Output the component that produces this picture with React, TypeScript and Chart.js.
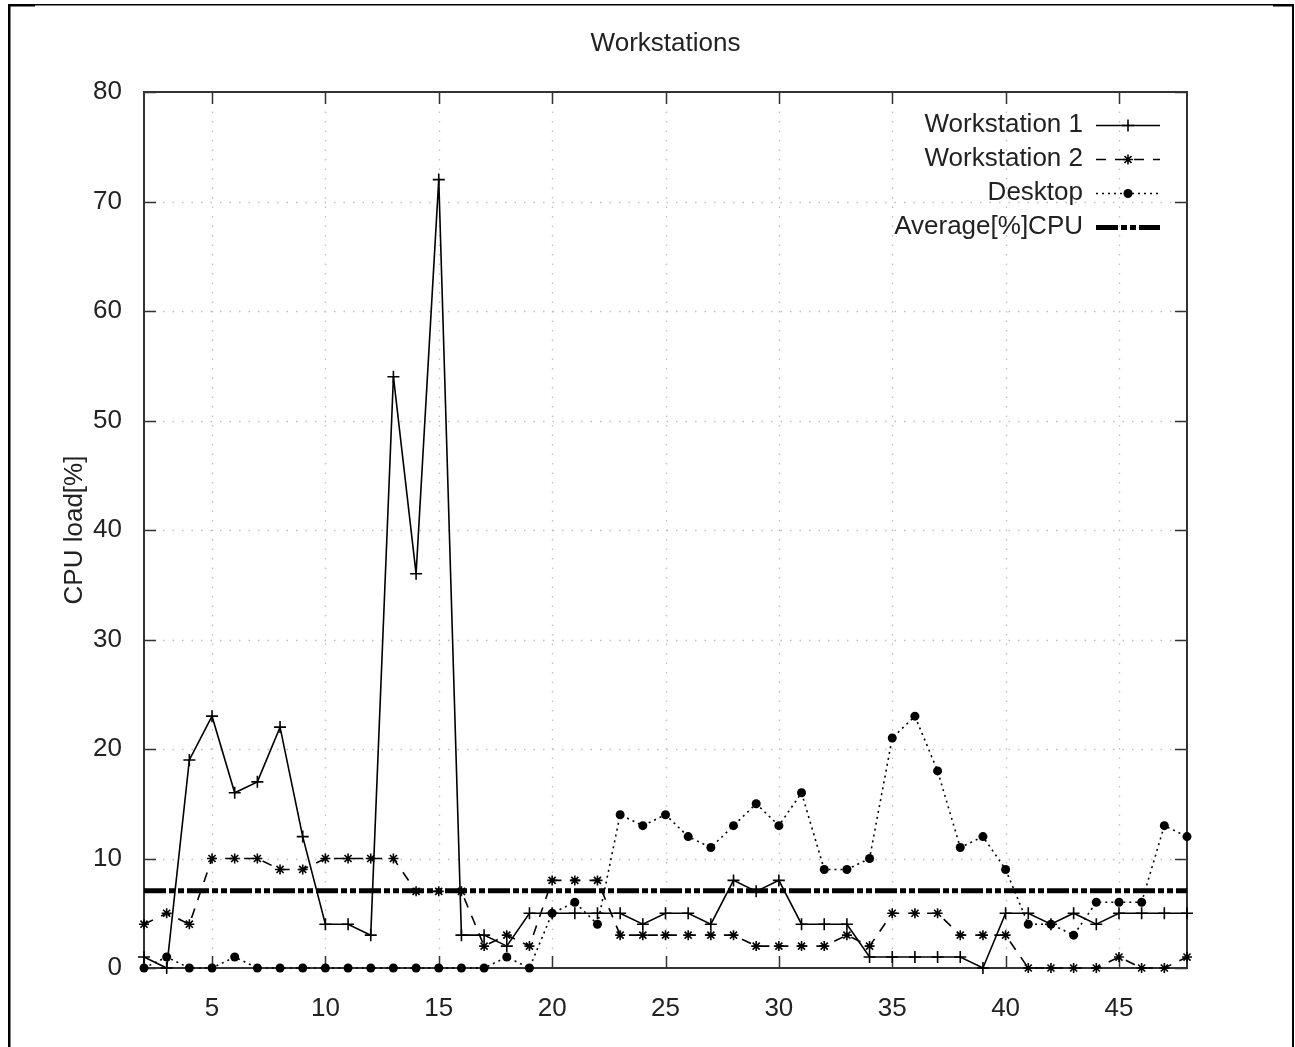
import React, { useEffect, useRef } from 'react';
import { Chart, registerables } from 'chart.js';

Chart.register(...registerables);

// ---------- data ----------
const hours = [2, 3, 4, 5, 6, 7, 8, 9, 10, 11, 12, 13, 14, 15, 16, 17, 18, 19, 20, 21, 22, 23, 24, 25, 26, 27, 28, 29, 30, 31, 32, 33, 34, 35, 36, 37, 38, 39, 40, 41, 42, 43, 44, 45, 46, 47, 48];
const workstation1 = [1, 0, 19, 23, 16, 17, 22, 12, 4, 4, 3, 54, 36, 72, 3, 3, 2, 5, 5, 5, 5, 5, 4, 5, 5, 4, 8, 7, 8, 4, 4, 4, 1, 1, 1, 1, 1, 0, 5, 5, 4, 5, 4, 5, 5, 5, 5];
const workstation2 = [4, 5, 4, 10, 10, 10, 9, 9, 10, 10, 10, 10, 7, 7, 7, 2, 3, 2, 8, 8, 8, 3, 3, 3, 3, 3, 3, 2, 2, 2, 2, 3, 2, 5, 5, 5, 3, 3, 3, 0, 0, 0, 0, 1, 0, 0, 1];
const desktop = [0, 1, 0, 0, 1, 0, 0, 0, 0, 0, 0, 0, 0, 0, 0, 0, 1, 0, 5, 6, 4, 14, 13, 14, 12, 11, 13, 15, 13, 16, 9, 9, 10, 21, 23, 18, 11, 12, 9, 4, 4, 3, 6, 6, 6, 13, 12];
const averageCpu = 7.06;
const xTickValues = [5, 10, 15, 20, 25, 30, 35, 40, 45];
const yTickValues = [0, 10, 20, 30, 40, 50, 60, 70, 80];
const chartTitle = 'Workstations';
const yAxisTitle = 'CPU load[%]';
const seriesNames = ['Workstation 1', 'Workstation 2', 'Desktop', 'Average[%]CPU'];

// ---------- layout / style ----------
const W = 1295;
const H = 1047;
const AREA = { left: 144, top: 92, right: 1187, bottom: 968 };
const FONT = '"Liberation Sans", Arial, sans-serif';
const FS = 26;
const TEXT = '#222';
const AXIS = '#333';

type Mk = 'cross' | 'star' | 'circle' | 'none';
const styles: { dash: number[]; width: number; marker: Mk; r: number }[] = [
  { dash: [], width: 1.6, marker: 'cross', r: 6 },
  { dash: [10, 9], width: 1.6, marker: 'star', r: 5 },
  { dash: [2, 4], width: 1.6, marker: 'circle', r: 4.5 },
  { dash: [22, 3, 6, 3, 6, 3], width: 5, marker: 'none', r: 0 },
];

function drawMarker(ctx: CanvasRenderingContext2D, m: Mk, x: number, y: number, r: number) {
  ctx.save();
  ctx.setLineDash([]);
  ctx.strokeStyle = '#000';
  ctx.fillStyle = '#000';
  ctx.lineWidth = 1.6;
  ctx.beginPath();
  if (m === 'cross' || m === 'star') {
    ctx.moveTo(x - r, y); ctx.lineTo(x + r, y);
    ctx.moveTo(x, y - r); ctx.lineTo(x, y + r);
    if (m === 'star') {
      const d = r * 0.7071;
      ctx.moveTo(x - d, y - d); ctx.lineTo(x + d, y + d);
      ctx.moveTo(x - d, y + d); ctx.lineTo(x + d, y - d);
    }
    ctx.stroke();
  } else if (m === 'circle') {
    ctx.arc(x, y, r, 0, Math.PI * 2);
    ctx.fill();
  }
  ctx.restore();
}

const gnuplotPlugin = {
  id: 'gnuplotLook',
  beforeDraw(chart: any) {
    const ctx: CanvasRenderingContext2D = chart.ctx;
    ctx.save();
    ctx.fillStyle = '#fff';
    ctx.fillRect(0, 0, W, H);
    // outer page frame
    ctx.fillStyle = '#000';
    ctx.fillRect(8, 4, 1286, 1.5);
    ctx.fillRect(8, 4, 2.5, H - 4);
    ctx.fillRect(1292, 4, 2, H - 4);
    ctx.fillRect(8, 4, 27, 2.5);
    ctx.fillRect(1273, 4, 21, 2.5);
    ctx.restore();
  },
  beforeDatasetsDraw(chart: any) {
    const ctx: CanvasRenderingContext2D = chart.ctx;
    const xs = chart.scales.x;
    const ys = chart.scales.y;
    const { left, right, top, bottom } = chart.chartArea;
    ctx.save();
    // dotted grid
    ctx.strokeStyle = '#bdbdbd';
    ctx.lineWidth = 1.3;
    ctx.setLineDash([1.5, 8]);
    xTickValues.forEach((v) => {
      const px = Math.round(xs.getPixelForValue(v)) + 0.5;
      ctx.beginPath(); ctx.moveTo(px, bottom); ctx.lineTo(px, top); ctx.stroke();
    });
    yTickValues.forEach((v) => {
      if (v === yTickValues[0] || v === yTickValues[yTickValues.length - 1]) return;
      const py = Math.round(ys.getPixelForValue(v)) + 0.5;
      ctx.beginPath(); ctx.moveTo(left, py); ctx.lineTo(right, py); ctx.stroke();
    });
    ctx.setLineDash([]);
    // border
    ctx.strokeStyle = AXIS;
    ctx.lineWidth = 2;
    ctx.strokeRect(left, top, right - left, bottom - top);
    // inward ticks on all four sides
    const tl = 12;
    ctx.lineWidth = 1.5;
    ctx.beginPath();
    xTickValues.forEach((v) => {
      const px = Math.round(xs.getPixelForValue(v)) + 0.5;
      ctx.moveTo(px, bottom); ctx.lineTo(px, bottom - tl);
      ctx.moveTo(px, top); ctx.lineTo(px, top + tl);
    });
    yTickValues.forEach((v) => {
      const py = Math.round(ys.getPixelForValue(v)) + 0.5;
      ctx.moveTo(left, py); ctx.lineTo(left + tl, py);
      ctx.moveTo(right, py); ctx.lineTo(right - tl, py);
    });
    ctx.stroke();
    ctx.restore();
  },
  afterDatasetsDraw(chart: any) {
    const ctx: CanvasRenderingContext2D = chart.ctx;
    const { left, right, top, bottom } = chart.chartArea;
    ctx.save();
    ctx.fillStyle = TEXT;
    ctx.font = `${FS}px ${FONT}`;
    ctx.textAlign = 'center';
    ctx.textBaseline = 'middle';
    ctx.fillText(chartTitle, (left + right) / 2, 44);
    // y axis title
    ctx.save();
    ctx.translate(75, (top + bottom) / 2);
    ctx.rotate(-Math.PI / 2);
    ctx.fillText(yAxisTitle, 0, 0);
    ctx.restore();
    // legend
    const rowY = [125, 159, 193, 227];
    const textRight = 1083;
    const s0 = 1096;
    const s1 = 1160;
    seriesNames.forEach((name, i) => {
      const y = rowY[i];
      ctx.fillStyle = TEXT;
      ctx.textAlign = 'right';
      ctx.fillText(name, textRight, y);
      const st = styles[i];
      ctx.save();
      ctx.strokeStyle = '#000';
      ctx.lineWidth = st.width;
      ctx.setLineDash(st.dash);
      ctx.beginPath();
      ctx.moveTo(s0, y + 0.5);
      ctx.lineTo(s1, y + 0.5);
      ctx.stroke();
      ctx.restore();
      drawMarker(ctx, st.marker, (s0 + s1) / 2, y + 0.5, st.r);
    });
    ctx.restore();
  },
};

function series(values: number[]) {
  return hours.map((h, i) => ({ x: h, y: values[i] }));
}

export default function App() {
  const ref = useRef<HTMLCanvasElement | null>(null);

  useEffect(() => {
    const canvas = ref.current;
    if (!canvas) return;
    const chart = new Chart(canvas, {
      type: 'line',
      data: {
        datasets: [
          {
            label: seriesNames[0],
            data: series(workstation1),
            borderColor: '#000',
            backgroundColor: '#000',
            borderWidth: styles[0].width,
            pointStyle: 'cross',
            pointRadius: styles[0].r,
            pointBorderWidth: 1.6,
            pointBorderColor: '#000',
            tension: 0,
            clip: false as any,
            order: 4,
          },
          {
            label: seriesNames[1],
            data: series(workstation2),
            borderColor: '#000',
            backgroundColor: '#000',
            borderWidth: styles[1].width,
            borderDash: styles[1].dash,
            pointStyle: 'star',
            pointRadius: styles[1].r,
            pointBorderWidth: 1.6,
            pointBorderColor: '#000',
            tension: 0,
            clip: false as any,
            order: 3,
          },
          {
            label: seriesNames[2],
            data: series(desktop),
            borderColor: '#000',
            backgroundColor: '#000',
            borderWidth: styles[2].width,
            borderDash: styles[2].dash,
            pointStyle: 'circle',
            pointRadius: styles[2].r,
            pointBorderWidth: 0,
            pointBackgroundColor: '#000',
            tension: 0,
            clip: false as any,
            order: 2,
          },
          {
            label: seriesNames[3],
            data: [
              { x: hours[0], y: averageCpu },
              { x: hours[hours.length - 1], y: averageCpu },
            ],
            borderColor: '#000',
            borderWidth: styles[3].width,
            borderDash: styles[3].dash,
            pointRadius: 0,
            tension: 0,
            clip: false as any,
            order: 1,
          },
        ],
      },
      options: {
        animation: false,
        responsive: false,
        devicePixelRatio: 1,
        events: [],
        layout: { padding: { left: 0, top: AREA.top, right: W - AREA.right, bottom: 0 } },
        plugins: {
          legend: { display: false },
          title: { display: false },
          tooltip: { enabled: false },
        },
        scales: {
          x: {
            type: 'linear',
            min: hours[0],
            max: hours[hours.length - 1],
            grid: { display: false },
            border: { display: false },
            afterBuildTicks: (scale: any) => {
              scale.ticks = xTickValues.map((v) => ({ value: v }));
            },
            afterFit: (scale: any) => {
              scale.height = H - AREA.bottom;
            },
            ticks: {
              autoSkip: false,
              maxRotation: 0,
              padding: 20,
              color: TEXT,
              font: { family: FONT, size: FS, lineHeight: 1 },
            },
          },
          y: {
            type: 'linear',
            min: yTickValues[0],
            max: yTickValues[yTickValues.length - 1],
            grid: { display: false },
            border: { display: false },
            afterBuildTicks: (scale: any) => {
              scale.ticks = yTickValues.map((v) => ({ value: v }));
            },
            afterFit: (scale: any) => {
              scale.width = AREA.left;
            },
            ticks: {
              autoSkip: false,
              padding: 14,
              color: TEXT,
              font: { family: FONT, size: FS, lineHeight: 1 },
            },
          },
        },
      },
      plugins: [gnuplotPlugin],
    } as any);
    return () => chart.destroy();
  }, []);

  return (
    <div style={{ position: 'fixed', left: 0, top: 0, width: W, height: H, background: '#fff' }}>
      <canvas ref={ref} width={W} height={H} style={{ display: 'block', width: W, height: H }} />
    </div>
  );
}
